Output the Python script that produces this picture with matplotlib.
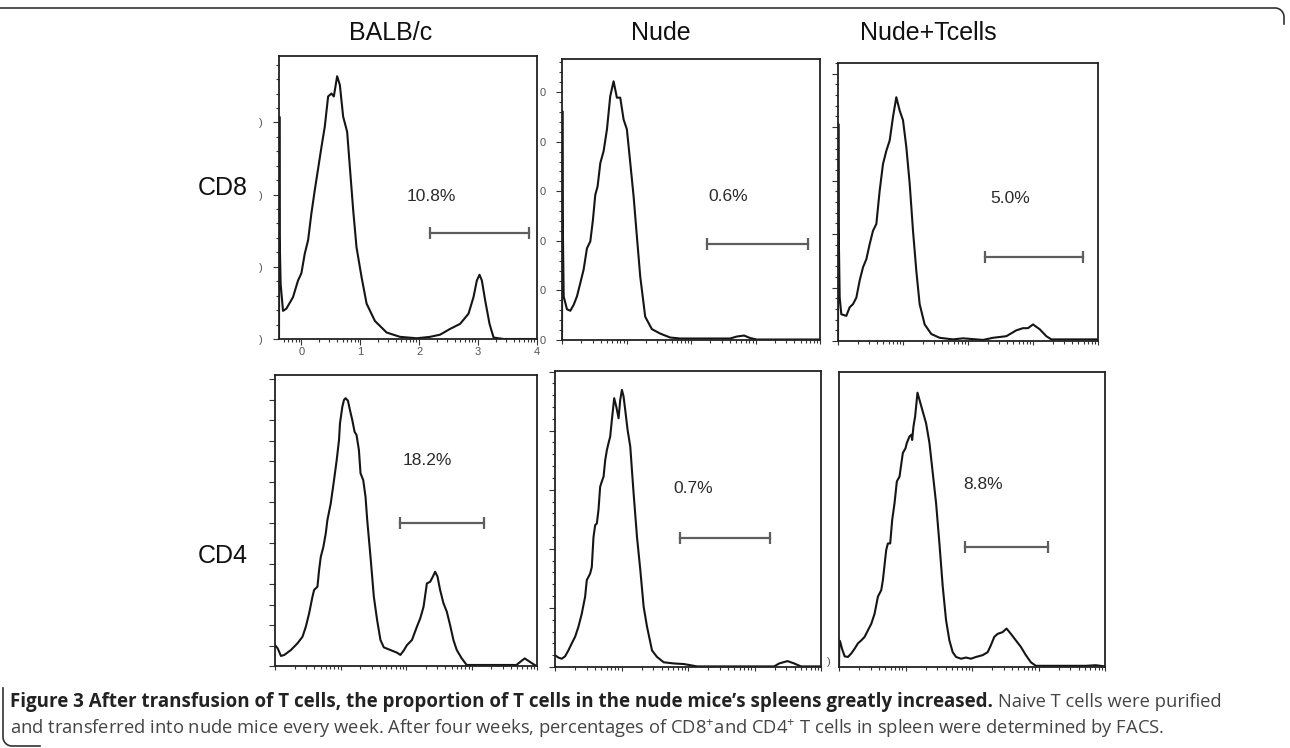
import numpy as np
import matplotlib
matplotlib.use("Agg")
from matplotlib import pyplot as plt
from matplotlib.ticker import MultipleLocator, AutoMinorLocator, FixedLocator, NullLocator
from matplotlib.lines import Line2D

plt.rcParams['font.family'] = ['Liberation Sans', 'DejaVu Sans']
plt.rcParams['mathtext.default'] = 'regular'

W, H = 1290, 748

col_titles = ['BALB/c', 'Nude', 'Nude+Tcells']
row_titles = ['CD8', 'CD4']

# histograms: x in log decades, y in the panel's own count units
cd8_balb_x = [-0.38, -0.374, -0.369, -0.352, -0.312, -0.255, -0.142, -0.057, 0.0, 0.057, 0.114, 0.170,
              0.227, 0.284, 0.341, 0.397, 0.454, 0.511, 0.551, 0.607, 0.653, 0.709, 0.777, 0.823, 0.880,
              0.936, 1.021, 1.107, 1.248, 1.447, 1.674, 1.958, 2.185, 2.355, 2.525, 2.695, 2.837, 2.922,
              2.979, 3.024, 3.064, 3.121, 3.194, 3.263, 3.433, 4.0]
cd8_balb_y = [0, 3.08, 1.41, 0.76, 0.39, 0.42, 0.58, 0.81, 0.91, 1.18, 1.37, 1.74,
              2.06, 2.36, 2.66, 2.94, 3.36, 3.40, 3.36, 3.64, 3.52, 3.08, 2.87, 2.38, 1.78,
              1.27, 0.86, 0.49, 0.25, 0.09, 0.03, 0.01, 0.03, 0.06, 0.14, 0.21, 0.35, 0.58,
              0.81, 0.89, 0.81, 0.53, 0.21, 0.02, 0, 0]

cd8_nude_x = [0, 0.005, 0.010, 0.026, 0.077, 0.129, 0.181, 0.232, 0.284, 0.335, 0.387, 0.439, 0.480,
              0.516, 0.552, 0.594, 0.645, 0.697, 0.748, 0.800, 0.851, 0.903, 0.955, 1.006, 1.048,
              1.110, 1.161, 1.213, 1.290, 1.393, 1.522, 1.677, 1.832, 2.606, 2.710, 2.823, 2.916,
              3.019, 4.0]
cd8_nude_y = [0, 4.62, 2.56, 0.88, 0.62, 0.59, 0.71, 0.88, 1.15, 1.42, 1.85, 1.99, 2.43,
              2.93, 3.10, 3.57, 3.81, 4.25, 4.92, 5.22, 4.89, 4.89, 4.45, 4.25, 3.71,
              2.90, 2.09, 1.28, 0.47, 0.22, 0.13, 0.05, 0.03, 0.03, 0.07, 0.09, 0.04,
              0.01, 0.01]

cd8_tc_x = [0, 0.005, 0.010, 0.026, 0.051, 0.128, 0.179, 0.231, 0.282, 0.333, 0.385, 0.436, 0.487,
            0.538, 0.590, 0.641, 0.692, 0.744, 0.795, 0.846, 0.897, 0.949, 1.000, 1.051, 1.103,
            1.154, 1.205, 1.256, 1.333, 1.436, 1.564, 1.769, 1.923, 2.231, 2.385, 2.590, 2.744,
            2.846, 2.923, 3.000, 3.103, 3.205, 3.282, 4.0]
cd8_tc_y = [0, 4.06, 2.13, 0.81, 0.50, 0.47, 0.63, 0.69, 0.81, 1.13, 1.38, 1.53, 1.81,
            2.06, 2.19, 2.81, 3.31, 3.56, 3.75, 4.19, 4.56, 4.31, 4.13, 3.63, 2.94,
            2.06, 1.31, 0.69, 0.31, 0.13, 0.06, 0.03, 0.05, 0.02, 0.06, 0.09, 0.20,
            0.24, 0.24, 0.31, 0.22, 0.09, 0.03, 0.03]

cd4_balb_x = [0, 0.041, 0.091, 0.142, 0.243, 0.344, 0.420, 0.471, 0.521, 0.572, 0.597, 0.648, 0.673,
              0.699, 0.739, 0.775, 0.800, 0.851, 0.901, 0.942, 0.977, 0.992, 1.028, 1.053, 1.078,
              1.114, 1.144, 1.180, 1.215, 1.245, 1.281, 1.306, 1.347, 1.382, 1.408, 1.458, 1.509,
              1.559, 1.610, 1.661, 1.762, 1.863, 1.914, 1.964, 2.015, 2.091, 2.167, 2.218, 2.268,
              2.319, 2.369, 2.410, 2.445, 2.481, 2.521, 2.572, 2.623, 2.673, 2.724, 2.775, 2.851,
              2.926, 3.028, 3.686, 3.747, 3.812, 3.888, 3.964, 4.0]
cd4_balb_y = [1.02, 0.86, 0.49, 0.54, 0.78, 1.11, 1.43, 1.92, 2.57, 3.38, 3.71, 3.87, 4.68,
              5.33, 5.82, 6.47, 7.12, 7.93, 9.07, 10.05, 11.02, 11.84, 12.65, 12.98, 13.07,
              12.94, 12.49, 12.0, 11.43, 11.27, 10.54, 9.40, 9.07, 8.26, 7.12, 5.33, 3.38,
              2.24, 1.27, 0.91, 0.78, 0.65, 0.54, 0.75, 1.02, 1.27, 1.92, 2.33, 2.89,
              4.03, 4.11, 4.36, 4.60, 4.36, 3.71, 3.06, 2.65, 2.0, 1.27, 0.78, 0.37,
              0.05, 0.05, 0.05, 0.21, 0.37, 0.21, 0.05, 0]

cd4_nude_x = [0, 0.050, 0.101, 0.151, 0.201, 0.252, 0.302, 0.352, 0.402, 0.453, 0.478, 0.528, 0.553,
              0.579, 0.604, 0.629, 0.654, 0.679, 0.704, 0.730, 0.755, 0.780, 0.805, 0.830, 0.855,
              0.890, 0.921, 0.956, 0.981, 1.006, 1.031, 1.056, 1.092, 1.132, 1.157, 1.182, 1.233,
              1.283, 1.333, 1.384, 1.459, 1.534, 1.635, 1.786, 1.937, 2.138, 3.295, 3.371, 3.496,
              3.597, 3.698, 4.0]
cd4_nude_y = [0.20, 0.16, 0.14, 0.18, 0.28, 0.40, 0.51, 0.68, 0.90, 1.19, 1.47, 1.58, 1.69,
              2.20, 2.40, 2.43, 2.66, 3.05, 3.14, 3.22, 3.50, 3.67, 3.79, 3.90, 4.18,
              4.55, 4.41, 4.21, 4.52, 4.69, 4.58, 4.35, 4.01, 3.73, 3.33, 2.94, 2.20,
              1.64, 1.02, 0.68, 0.28, 0.17, 0.08, 0.06, 0.05, 0.01, 0.01, 0.06, 0.10,
              0.06, 0.01, 0.01]

cd4_tc_x = [0, 0.005, 0.02, 0.045, 0.085, 0.135, 0.185, 0.235, 0.285, 0.335, 0.385, 0.435, 0.485,
            0.535, 0.585, 0.635, 0.660, 0.710, 0.735, 0.770, 0.800, 0.835, 0.870, 0.910, 0.960,
            1.000, 1.020, 1.060, 1.090, 1.100, 1.120, 1.145, 1.180, 1.210, 1.260, 1.310, 1.360,
            1.410, 1.460, 1.510, 1.560, 1.610, 1.660, 1.710, 1.760, 1.835, 1.910, 1.985, 2.060,
            2.160, 2.235, 2.285, 2.335, 2.385, 2.460, 2.520, 2.585, 2.660, 2.735, 2.810, 2.885,
            2.960, 3.710, 3.860, 4.0]
cd4_tc_y = [0, 0.45, 0.42, 0.31, 0.18, 0.17, 0.23, 0.31, 0.40, 0.45, 0.51, 0.62, 0.73,
            0.90, 1.19, 1.30, 1.47, 1.98, 2.09, 2.09, 2.49, 2.77, 3.14, 3.22, 3.62,
            3.70, 3.79, 3.90, 3.93, 3.84, 4.07, 4.24, 4.64, 4.52, 4.32, 4.12, 3.79,
            3.28, 2.77, 2.09, 1.36, 0.79, 0.45, 0.25, 0.17, 0.14, 0.16, 0.14, 0.17,
            0.20, 0.25, 0.37, 0.51, 0.56, 0.59, 0.65, 0.56, 0.45, 0.34, 0.20, 0.08,
            0.02, 0.02, 0.03, 0.01]

# gates: (low, high, level) and the percentage printed above
gates = [(2.185, 3.858, 1.47), (2.255, 3.819, 1.94), (2.267, 3.769, 1.58),
         (1.904, 3.190, 6.99), (1.877, 3.235, 2.175), (1.895, 3.140, 2.03)]
pct_labels = ['10.8%', '0.6%', '5.0%', '18.2%', '0.7%', '8.8%']
pct_pos = [(2.21, 1.98), (2.575, 2.90), (2.646, 2.66), (2.319, 10.05), (2.073, 3.02), (2.16, 3.08)]

curves = [(cd8_balb_x, cd8_balb_y), (cd8_nude_x, cd8_nude_y), (cd8_tc_x, cd8_tc_y),
          (cd4_balb_x, cd4_balb_y), (cd4_nude_x, cd4_nude_y), (cd4_tc_x, cd4_tc_y)]
y_tops = [3.92, 5.67, 5.2, 14.2, 5.01, 4.99]

# panel boxes in pixels: left, top, right, bottom
boxes = [(279, 56, 537, 339), (562, 59, 820, 340), (838, 63, 1098, 341),
         (275, 375, 537, 666), (555, 371, 821, 667), (839, 372, 1105, 667)]

fig = plt.figure(figsize=(W / 100, H / 100), dpi=100)

def log_minor(lo, hi):
    ticks = []
    for d in range(-1, 4):
        for k in range(2, 10):
            v = d + np.log10(k)
            if lo < v < hi:
                ticks.append(v)
    return ticks

for i, (l, t, r, b) in enumerate(boxes):
    ax = fig.add_axes([l / W, 1 - b / H, (r - l) / W, (b - t) / H])
    cx, cy = curves[i]
    ax.plot(cx, cy, color='#151515', lw=1.5)
    lo, hi, lev = gates[i]
    ax.plot([lo, hi], [lev, lev], color='#5e5e5e', lw=1.6, marker='|', ms=9, mew=1.6)
    px, py = pct_pos[i]
    ax.text(px, py, pct_labels[i], ha='center', va='center', fontsize=12.5, color='#2a2a2a')

    x0 = -0.38 if i == 0 else 0.0
    ax.set_xlim(x0, 4)
    ax.set_ylim(0, y_tops[i])
    for s in ax.spines.values():
        s.set_linewidth(1.3)
        s.set_color('#222222')
    ax.tick_params(which='both', direction='out', color='#333333', width=0.8)
    ax.tick_params(which='major', length=4, pad=2)
    ax.tick_params(which='minor', length=2.5)

    ax.xaxis.set_major_locator(FixedLocator([0, 1, 2, 3, 4]))
    ax.xaxis.set_minor_locator(FixedLocator(log_minor(x0, 4)))
    if i == 0:
        ax.set_xticklabels(['0', '1', '2', '3', '4'], fontsize=8, color='#555555')
    else:
        ax.set_xticklabels([])

    if i in (0, 1):
        ax.yaxis.set_major_locator(MultipleLocator(1))
        ax.yaxis.set_minor_locator(AutoMinorLocator(5))
        ax.tick_params(axis='y', which='major', pad=8)
        lab = ')' if i == 0 else '0'
        ax.yaxis.set_major_formatter(plt.FuncFormatter(lambda v, p, lab=lab: lab))
        for tl in ax.get_yticklabels():
            tl.set_fontsize(8)
            tl.set_color('#555555')
    elif i in (2, 4):
        ax.yaxis.set_major_locator(MultipleLocator(1))
        ax.yaxis.set_minor_locator(AutoMinorLocator(5))
        ax.set_yticklabels([])
    elif i == 3:
        ax.yaxis.set_major_locator(MultipleLocator(1))
        ax.yaxis.set_minor_locator(NullLocator())
        ax.set_yticklabels([])
    else:
        ax.yaxis.set_major_locator(FixedLocator([0.1]))
        ax.yaxis.set_minor_locator(NullLocator())
        ax.tick_params(axis='y', length=0, pad=6)
        ax.set_yticklabels([')'], fontsize=8, color='#555555')
    if i != 0:
        ax.tick_params(axis='x', which='major', length=3)

title_x = [391, 661, 928]
for name, xp in zip(col_titles, title_x):
    fig.text(xp / W, 1 - 33 / H, name, ha='center', va='center', fontsize=18, color='#111111')
for name, yp in zip(row_titles, [188, 556]):
    fig.text(223 / W, 1 - yp / H, name, ha='center', va='center', fontsize=18, color='#111111')

# rounded frame pieces
ang = np.linspace(0, np.pi / 2, 20)
rr = 9
fx = np.concatenate([[0], 1284 - rr + rr * np.sin(ang), [1284]])
fy = np.concatenate([[8], 8 + rr - rr * np.cos(ang), [24]])
fig.add_artist(Line2D(fx / W, 1 - fy / H, color='#333333', lw=1.2, transform=fig.transFigure))
bx = np.concatenate([[3], 3 + rr - rr * np.cos(ang), [40]])
by = np.concatenate([[688], 746 - rr + rr * np.sin(ang), [746]])
fig.add_artist(Line2D(bx / W, 1 - by / H, color='#333333', lw=1.2, transform=fig.transFigure))

# caption
cap_bold = 'Figure 3 After transfusion of T cells, the proportion of T cells in the nude mice\u2019s spleens greatly increased.'
cap_rest1 = 'Naive T cells were purified'
cap_line2 = ('and transferred into nude mice every week. After four weeks, percentages of '
             'CD8$^{+}$and CD4$^{+}$ T cells in spleen were determined by FACS.')
renderer = fig.canvas.get_renderer()
t2 = fig.text(10 / W, 1 - 729 / H, cap_line2, fontsize=12, family='Open Sans', va='center', color='#444444')
w2 = t2.get_window_extent(renderer).width
fs = 12 * 1152 / w2
t2.set_fontsize(fs)
t3 = fig.text(0, 1 - 702 / H, cap_rest1, fontsize=fs, family='Open Sans', ha='right',
              va='center', color='#444444')
t3.set_x(1222 / W)
rest_left = t3.get_window_extent(renderer).x0
t1 = fig.text(10 / W, 1 - 702 / H, cap_bold, fontsize=fs, family='Open Sans', weight='bold',
              va='center', color='#222222')
wb = t1.get_window_extent(renderer).width
t1.set_fontsize(fs * (rest_left - 0.35 * fs - 10) / wb)

fig.savefig('out.png', dpi=100)
